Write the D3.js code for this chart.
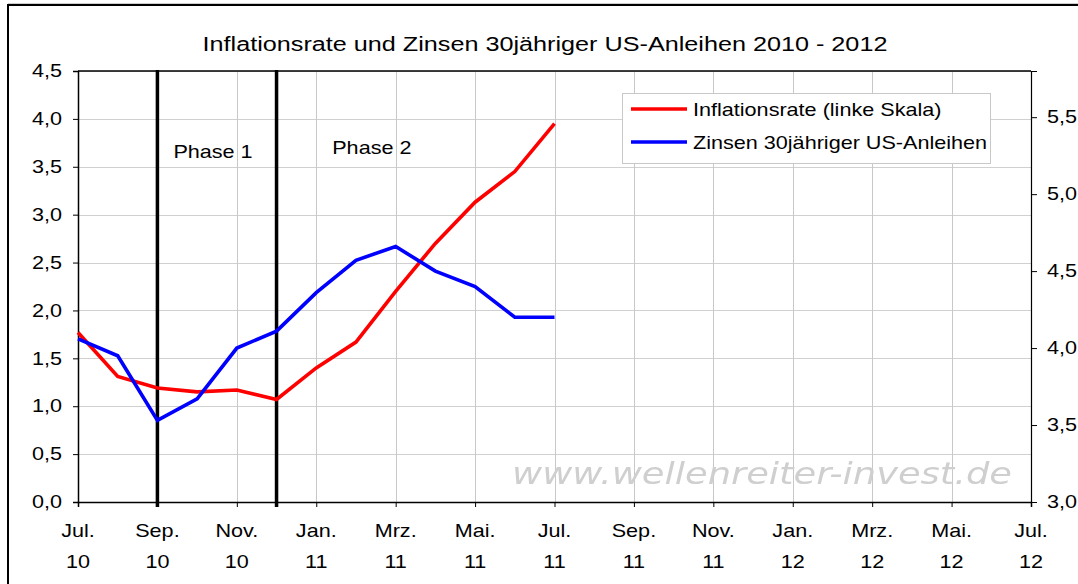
<!DOCTYPE html>
<html><head><meta charset="utf-8">
<script src="https://cdn.jsdelivr.net/npm/d3@7"></script>
<style>
html,body{margin:0;padding:0;background:#fff;}
svg{display:block;font-family:"Liberation Sans",Arial,sans-serif;}
</style></head>
<body>
<svg id="c" width="1078" height="584"></svg>
<script>
// ---- data ----
const months = ["Jul.|10","Aug.|10","Sep.|10","Okt.|10","Nov.|10","Dez.|10","Jan.|11","Feb.|11","Mrz.|11","Apr.|11","Mai.|11","Jun.|11","Jul.|11","Aug.|11","Sep.|11","Okt.|11","Nov.|11","Dez.|11","Jan.|12","Feb.|12","Mrz.|12","Apr.|12","Mai.|12","Jun.|12","Jul.|12"];
const inflation = [1.77,1.31,1.19,1.15,1.17,1.07,1.40,1.67,2.20,2.70,3.13,3.45,3.95];
const bondYield = [4.06,3.95,3.53,3.67,4.00,4.11,4.36,4.57,4.66,4.50,4.40,4.20,4.20];
const leftTicks = [0,0.5,1,1.5,2,2.5,3,3.5,4,4.5];
const rightTicks = [3.0,3.5,4.0,4.5,5.0,5.5];
const phaseMonths = [2,5];
const phaseLabels = ["Phase 1","Phase 2"];
const seriesNames = ["Inflationsrate (linke Skala)","Zinsen 30jähriger US-Anleihen"];
const title = "Inflationsrate und Zinsen 30jähriger US-Anleihen 2010 - 2012";

// ---- layout ----
const svg = d3.select("#c");
const SX = 1.2; // horizontal stretch of the original chart's text
const L = 78, R = 1031, T = 71, B = 502;
const x = d3.scaleLinear().domain([0, months.length-1]).range([L, R]);
const yL = d3.scaleLinear().domain([0, 4.5]).range([B, T]);
const yR = d3.scaleLinear().domain([3.0, 5.8]).range([B, T]);
const fmt = d3.format(".1f");
const de = v => fmt(v).replace(".", ",");

function stext(parent, tx, ty, str, size, anchor){
  return parent.append("text")
    .attr("transform",`translate(${tx},${ty}) scale(${SX},1)`)
    .attr("text-anchor",anchor||"start").attr("font-size",size).attr("fill","#000").text(str);
}

// outer border
svg.append("rect").attr("x",8).attr("y",5).attr("width",1200).attr("height",700)
  .attr("fill","none").attr("stroke","#000").attr("stroke-width",2);
svg.append("line").attr("x1",8).attr("x2",1078).attr("y1",3.5).attr("y2",3.5).attr("stroke","#ccc").attr("stroke-width",1);

// title
stext(svg, 545, 51, title, 21, "middle");

// gridlines horizontal
svg.append("g").selectAll("line").data(leftTicks.slice(1)).join("line")
  .attr("x1",L).attr("x2",R).attr("y1",d=>Math.round(yL(d))+0.5).attr("y2",d=>Math.round(yL(d))+0.5)
  .attr("stroke","#d0d0d0").attr("stroke-width",1);
// vertical gridlines every 2 months
const xTickIdx = d3.range(0, months.length, 2);
svg.append("g").selectAll("line").data(xTickIdx.slice(1)).join("line")
  .attr("x1",d=>Math.round(x(d))+0.5).attr("x2",d=>Math.round(x(d))+0.5).attr("y1",T).attr("y2",B)
  .attr("stroke","#c8c8c8").attr("stroke-width",1);

// watermark
svg.append("text").attr("x",512).attr("y",484)
  .attr("font-size",31).attr("font-style","italic").attr("fill","#cfcfcf")
  .attr("font-family","'DejaVu Sans',Verdana,sans-serif")
  .attr("textLength",500).attr("lengthAdjust","spacingAndGlyphs")
  .style("filter","blur(0.6px)")
  .text("www.wellenreiter-invest.de");

// plot frame
svg.append("line").attr("x1",L).attr("x2",R).attr("y1",T).attr("y2",T).attr("stroke","#000").attr("stroke-width",1.5);

// axes
const axL = d3.axisLeft(yL).tickValues(leftTicks).tickFormat(de).tickSize(5).tickPadding(11);
const gL = svg.append("g").attr("transform",`translate(${L},0)`).call(axL);
const axR = d3.axisRight(yR).tickValues(rightTicks).tickFormat(de).tickSize(6).tickPadding(10);
const gR = svg.append("g").attr("transform",`translate(${R},0)`).call(axR);
const axB = d3.axisBottom(x).tickValues(xTickIdx).tickFormat("").tickSize(5);
const gB = svg.append("g").attr("transform",`translate(0,${B})`).call(axB);
[gL,gR,gB].forEach(g=>{
  g.select(".domain").attr("stroke","#000").attr("stroke-width",1.5);
  g.selectAll(".tick line").attr("stroke","#000");
  g.selectAll("text").attr("font-size",18).attr("fill","#000").attr("font-family","'Liberation Sans',Arial,sans-serif")
    .each(function(){ const t=d3.select(this); t.attr("x", (+t.attr("x"))/SX).attr("transform",`scale(${SX},1)`); });
});
gR.select(".domain").attr("stroke-width",1.2);
// x labels two lines
const xl = svg.append("g").selectAll("g").data(xTickIdx).join("g");
xl.each(function(d){
  const g = d3.select(this);
  const p = months[d].split("|");
  stext(g, x(d), 537, p[0], 18, "middle");
  stext(g, x(d), 568, p[1], 18, "middle");
});

// phase lines
svg.append("g").selectAll("line").data(phaseMonths).join("line")
  .attr("x1",d=>x(d)).attr("x2",d=>x(d)).attr("y1",T-1).attr("y2",B+5)
  .attr("stroke","#000").attr("stroke-width",3.5);
const phaseLabelX = [x(phaseMonths[0]+1.4), x(phaseMonths[1]+2.4)];
const phaseLabelY = [158, 154];
phaseLabels.forEach((p,i)=> stext(svg, phaseLabelX[i], phaseLabelY[i], p, 18, "middle"));

// lines
const lineL = d3.line().x((d,i)=>x(i)).y(d=>yL(d));
const lineR = d3.line().x((d,i)=>x(i)).y(d=>yR(d));
svg.append("path").datum(inflation).attr("d",lineL).attr("fill","none")
  .attr("stroke","#ff0000").attr("stroke-width",3.6).attr("stroke-linejoin","miter");
svg.append("path").datum(bondYield).attr("d",lineR).attr("fill","none")
  .attr("stroke","#0000ff").attr("stroke-width",3.6).attr("stroke-linejoin","miter");

// legend
const lg = svg.append("g");
lg.append("rect").attr("x",622.5).attr("y",93.5).attr("width",368).attr("height",70)
  .attr("fill","#fff").attr("stroke","#c8c8c8").attr("stroke-width",1);
const colors = ["#ff0000","#0000ff"];
const lgY = [109, 142];
seriesNames.forEach((n,i)=>{
  lg.append("line").attr("x1",631).attr("x2",687).attr("y1",lgY[i]).attr("y2",lgY[i])
    .attr("stroke",colors[i]).attr("stroke-width",3.6);
  stext(lg, 693, lgY[i]+6.5, n, 18, "start");
});
</script>
</body></html>
